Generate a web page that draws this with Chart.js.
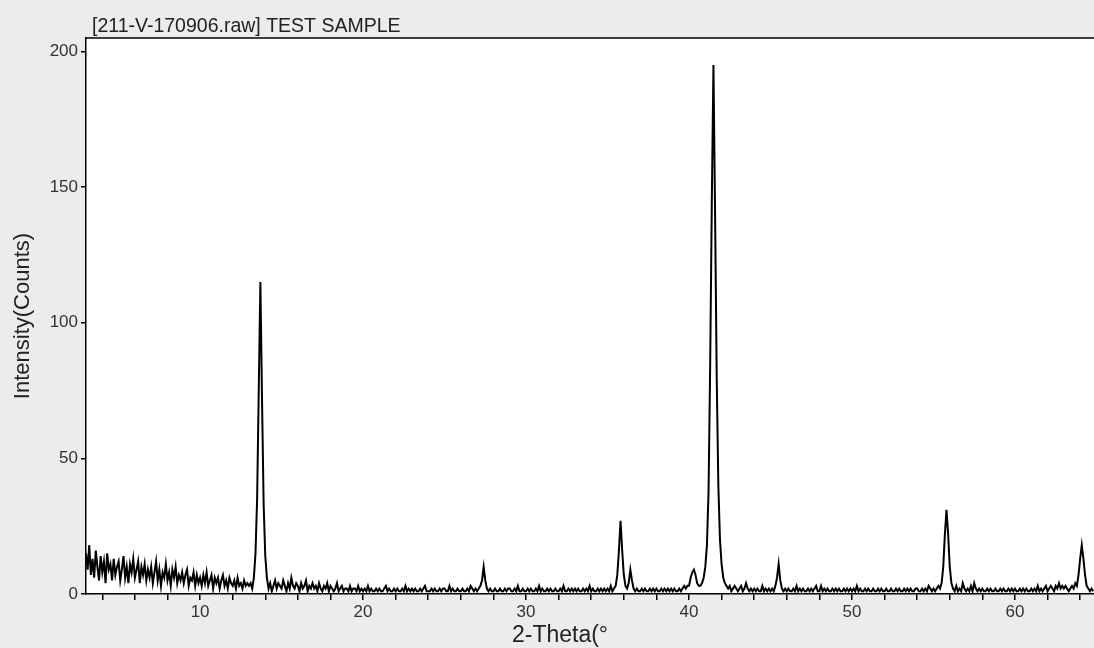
<!DOCTYPE html>
<html>
<head>
<meta charset="utf-8">
<script src="https://cdn.jsdelivr.net/npm/chart.js@4.4.1/dist/chart.umd.min.js"></script>
<style>
  html, body { margin: 0; padding: 0; background: #ececec; }
  canvas { display: block; }
</style>
</head>
<body>
<canvas id="xrd-chart" width="1094" height="648"></canvas>
<script>
const chartTitle = "[211-V-170906.raw] TEST SAMPLE";
const xAxisTitle = "2-Theta(°";
const yAxisTitle = "Intensity(Counts)";

// scan grid of the raw file
const scanStart = 3.0;
const scanStep = 0.1;

// counts per step, 3.0° .. 64.8°, one row per degree
const counts = [
  15, 9, 18, 7, 13, 6, 16, 10, 5, 14,
  8, 12, 4, 15, 9, 11, 5, 13, 7, 10,
  12, 5, 9, 14, 6, 10, 4, 11, 8, 13,
  6, 9, 12, 4, 10, 7, 11, 5, 9, 6,
  10, 4, 8, 12, 5, 9, 3, 8, 6, 11,
  5, 8, 3, 9, 6, 10, 4, 7, 5, 8,
  4, 7, 9, 3, 6, 5, 8, 3, 7, 4,
  6, 3, 7, 4, 8, 3, 5, 7, 2, 6,
  4, 6, 2, 5, 7, 3, 5, 2, 6, 4,
  3, 5, 2, 6, 3, 4, 2, 5, 3, 4,
  3, 4, 2, 6, 15, 35, 75, 115, 72, 33,
  14, 6, 2, 4, 1, 3, 5, 2, 4, 3,
  2, 5, 3, 1, 4, 2, 6, 3, 2, 4,
  3, 1, 4, 2, 3, 5, 1, 3, 2, 4,
  2, 3, 1, 4, 2, 1, 3, 2, 4, 1,
  3, 2, 1, 2, 4, 1, 2, 3, 1, 2,
  2, 1, 3, 1, 2, 2, 1, 3, 1, 2,
  1, 2, 1, 3, 1, 2, 1, 1, 2, 1,
  2, 1, 1, 2, 3, 1, 2, 1, 1, 2,
  1, 2, 1, 1, 2, 1, 3, 1, 2, 1,
  2, 1, 2, 1, 1, 2, 1, 2, 3, 1,
  1, 1, 2, 1, 2, 1, 1, 2, 1, 2,
  2, 1, 1, 3, 1, 2, 1, 1, 2, 1,
  1, 2, 1, 1, 2, 1, 3, 2, 1, 2,
  1, 2, 3, 5, 10, 5, 2, 1, 2, 1,
  1, 2, 1, 1, 2, 1, 1, 2, 1, 2,
  2, 1, 1, 2, 1, 3, 1, 1, 2, 1,
  1, 2, 1, 2, 1, 1, 2, 1, 3, 1,
  2, 1, 1, 2, 1, 2, 1, 1, 2, 1,
  1, 2, 1, 3, 1, 1, 2, 1, 2, 1,
  2, 1, 2, 1, 1, 2, 1, 2, 1, 3,
  1, 2, 1, 1, 2, 1, 2, 1, 2, 1,
  2, 1, 3, 1, 2, 3, 7, 16, 27, 16,
  7, 3, 2, 4, 9, 5, 2, 1, 2, 1,
  1, 2, 1, 2, 1, 1, 2, 1, 2, 1,
  2, 1, 1, 2, 1, 2, 1, 2, 1, 2,
  1, 2, 1, 1, 2, 1, 2, 3, 2, 3,
  3, 6, 8, 9, 7, 4, 3, 3, 4, 6,
  10, 18, 38, 85, 145, 195, 140, 80, 40, 20,
  11, 6, 4, 3, 2, 3, 1, 2, 3, 2,
  1, 2, 3, 1, 2, 4, 2, 1, 2, 1,
  2, 1, 2, 1, 1, 3, 1, 2, 1, 2,
  1, 2, 1, 3, 6, 11, 5, 2, 1, 2,
  1, 2, 1, 1, 2, 1, 3, 1, 2, 1,
  2, 1, 1, 2, 1, 2, 1, 2, 3, 1,
  1, 3, 1, 2, 1, 2, 1, 1, 2, 1,
  2, 1, 2, 1, 1, 2, 1, 2, 1, 2,
  1, 2, 1, 3, 1, 2, 1, 1, 2, 1,
  2, 1, 1, 2, 1, 1, 2, 1, 2, 1,
  1, 2, 1, 1, 2, 1, 1, 2, 1, 2,
  1, 1, 2, 1, 2, 1, 2, 1, 1, 2,
  2, 1, 1, 2, 1, 2, 1, 3, 2, 1,
  2, 1, 2, 3, 2, 4, 10, 22, 31, 22,
  10, 4, 2, 1, 3, 1, 2, 1, 4, 2,
  1, 2, 1, 3, 1, 4, 2, 1, 2, 1,
  2, 1, 1, 2, 1, 2, 1, 1, 2, 1,
  1, 2, 1, 2, 1, 1, 2, 1, 2, 1,
  2, 1, 1, 2, 1, 2, 1, 2, 1, 1,
  2, 1, 2, 1, 3, 1, 2, 1, 2, 3,
  1, 2, 3, 2, 1, 3, 2, 4, 2, 3,
  2, 3, 2, 1, 2, 3, 2, 4, 3, 7,
  13, 18, 13, 7, 3, 2, 1, 2, 1
];

const xTicks = [4, 6, 8, 10, 12, 14, 16, 18, 20, 22, 24, 26, 28, 30, 32, 34,
  36, 38, 40, 42, 44, 46, 48, 50, 52, 54, 56, 58, 60, 62, 64];
const xLabelled = [10, 20, 30, 40, 50, 60];
const yTicks = [0, 50, 100, 150, 200];

const points = counts.map((c, i) => ({ x: +(scanStart + i * scanStep).toFixed(1), y: c }));

const fontFamily = '"Liberation Sans", Arial, sans-serif';

// grey page, white plot area, top frame line and the free-standing texts
const framePlugin = {
  id: "frame",
  beforeDraw(chart) {
    const { ctx, chartArea: a } = chart;
    ctx.save();
    ctx.fillStyle = "#ececec";
    ctx.fillRect(0, 0, chart.width, chart.height);
    ctx.fillStyle = "#ffffff";
    ctx.fillRect(a.left, a.top, a.right - a.left, a.bottom - a.top);
    ctx.restore();
  },
  afterDraw(chart) {
    const { ctx, chartArea: a } = chart;
    ctx.save();
    ctx.strokeStyle = "#000";
    ctx.lineWidth = 1.5;
    ctx.beginPath();
    ctx.moveTo(a.left, a.top);
    ctx.lineTo(a.right, a.top);
    ctx.stroke();

    ctx.fillStyle = "#222";
    ctx.font = "19.5px " + fontFamily;
    ctx.textBaseline = "bottom";
    ctx.fillText(chartTitle, a.left + 6, a.top - 2);

    ctx.font = "23px " + fontFamily;
    ctx.textAlign = "center";
    ctx.textBaseline = "middle";
    ctx.fillText(xAxisTitle, 560, 636);
    ctx.restore();
  }
};

new Chart(document.getElementById("xrd-chart").getContext("2d"), {
  type: "line",
  data: {
    datasets: [{
      data: points,
      borderColor: "#000",
      borderWidth: 2,
      pointRadius: 0,
      tension: 0,
      fill: false,
    }],
  },
  options: {
    responsive: false,
    animation: false,
    devicePixelRatio: 1,
    layout: { padding: { top: 38, left: 0, right: 0, bottom: 0 } },
    scales: {
      x: {
        type: "linear",
        min: 3,
        max: 64.85,
        afterBuildTicks: (s) => { s.ticks = xTicks.map((v) => ({ value: v })); },
        afterFit: (s) => { s.height = 54; },
        border: { color: "#000", width: 1.5 },
        grid: { drawOnChartArea: false, drawTicks: true, tickLength: 6, color: "#000", lineWidth: 1.5 },
        ticks: {
          autoSkip: false,
          maxRotation: 0,
          padding: 2,
          color: "#333",
          font: { family: fontFamily, size: 17 },
          callback: (v) => (xLabelled.includes(v) ? String(v) : ""),
        },
      },
      y: {
        min: 0,
        max: 205,
        afterBuildTicks: (s) => { s.ticks = yTicks.map((v) => ({ value: v })); },
        afterFit: (s) => { s.width = 86; },
        border: { color: "#000", width: 1.5 },
        grid: { drawOnChartArea: false, drawTicks: true, tickLength: 5, color: "#000", lineWidth: 1.5 },
        ticks: {
          padding: 3,
          color: "#333",
          font: { family: fontFamily, size: 17 },
        },
        title: {
          display: true,
          text: yAxisTitle,
          color: "#222",
          font: { family: fontFamily, size: 22 },
          padding: { top: 10, bottom: 0 },
        },
      },
    },
    plugins: {
      legend: { display: false },
      tooltip: { enabled: false },
    },
  },
  plugins: [framePlugin],
});
</script>
</body>
</html>
